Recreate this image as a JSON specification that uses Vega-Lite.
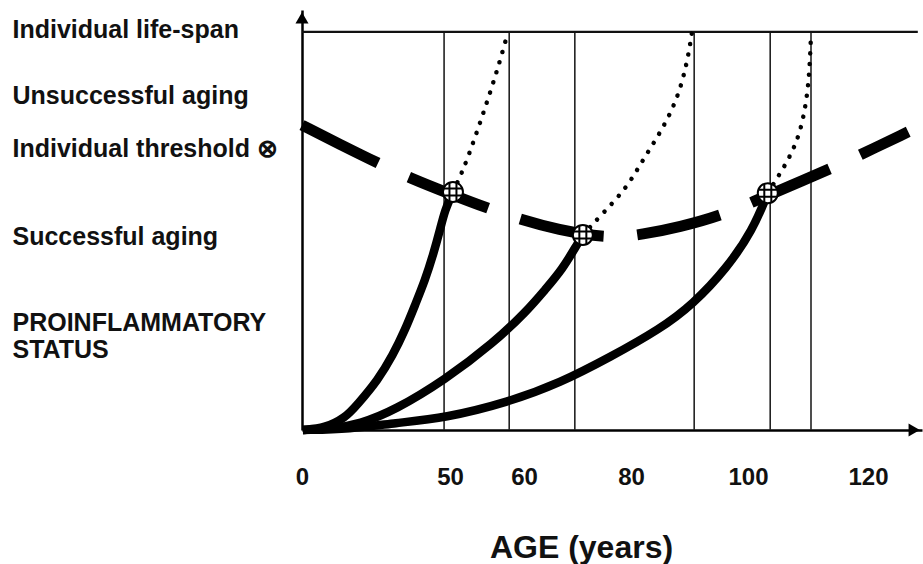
{
  "$schema": "https://vega.github.io/schema/vega-lite/v6.json",
  "width": 620,
  "height": 420,
  "autosize": {"type": "none"},
  "padding": {"left": 302, "top": 10, "right": 1, "bottom": 134},
  "background": "white",
  "config": {"view": {"stroke": null}, "font": "Liberation Sans"},
  "datasets": {
    "solid": [
      {"s": "c1", "age": 0.3, "v": 0}, {"s": "c1", "age": 7.8, "v": 0.5}, {"s": "c1", "age": 14.5, "v": 3.0}, {"s": "c1", "age": 18.6, "v": 6.3}, {"s": "c1", "age": 25.7, "v": 12.6}, {"s": "c1", "age": 30.7, "v": 18.8}, {"s": "c1", "age": 34.8, "v": 25.1}, {"s": "c1", "age": 38.2, "v": 31.4}, {"s": "c1", "age": 41.6, "v": 37.7}, {"s": "c1", "age": 44.3, "v": 44.0}, {"s": "c1", "age": 46.6, "v": 50.2}, {"s": "c1", "age": 48.3, "v": 55.3}, {"s": "c1", "age": 50.4, "v": 59.8},
      {"s": "c2", "age": 0.3, "v": 0}, {"s": "c2", "age": 9.5, "v": 0.25}, {"s": "c2", "age": 19.6, "v": 1.5}, {"s": "c2", "age": 31.4, "v": 5.0}, {"s": "c2", "age": 48.3, "v": 12.6}, {"s": "c2", "age": 55.9, "v": 21.9}, {"s": "c2", "age": 60.7, "v": 30.1}, {"s": "c2", "age": 63.9, "v": 35.2}, {"s": "c2", "age": 67.1, "v": 40.2}, {"s": "c2", "age": 70.1, "v": 47.0}, {"s": "c2", "age": 71.0, "v": 49.0},
      {"s": "c3", "age": 0.3, "v": 0}, {"s": "c3", "age": 16.2, "v": 0.25}, {"s": "c3", "age": 31.4, "v": 1.76}, {"s": "c3", "age": 48.3, "v": 3.0}, {"s": "c3", "age": 57.9, "v": 7.0}, {"s": "c3", "age": 66.7, "v": 11.8}, {"s": "c3", "age": 76.1, "v": 18.3}, {"s": "c3", "age": 85.0, "v": 25.4}, {"s": "c3", "age": 90.6, "v": 31.6}, {"s": "c3", "age": 96.4, "v": 40.7}, {"s": "c3", "age": 100.8, "v": 50.2}, {"s": "c3", "age": 103.3, "v": 59.5}
    ],
    "dotted": [
      {"s": "d1", "age": 50.4, "v": 59.8}, {"s": "d1", "age": 51.8, "v": 65.3}, {"s": "d1", "age": 53.5, "v": 74.1}, {"s": "d1", "age": 55.1, "v": 82.9}, {"s": "d1", "age": 56.6, "v": 91.7}, {"s": "d1", "age": 57.8, "v": 99.7},
      {"s": "d2", "age": 71.0, "v": 49.0}, {"s": "d2", "age": 74.8, "v": 54.5}, {"s": "d2", "age": 79.3, "v": 61.0}, {"s": "d2", "age": 82.0, "v": 67.8}, {"s": "d2", "age": 85.0, "v": 74.6}, {"s": "d2", "age": 87.9, "v": 82.9}, {"s": "d2", "age": 89.6, "v": 92.2}, {"s": "d2", "age": 90.4, "v": 99.7},
      {"s": "d3", "age": 103.3, "v": 59.5}, {"s": "d3", "age": 105.0, "v": 63.6}, {"s": "d3", "age": 107.0, "v": 68.6}, {"s": "d3", "age": 108.7, "v": 74.6}, {"s": "d3", "age": 109.8, "v": 82.9}, {"s": "d3", "age": 110.3, "v": 91.2}, {"s": "d3", "age": 110.5, "v": 99.7}
    ],
    "threshold": [
      {"age": 0, "v": 76.6}, {"age": 13.2, "v": 71.6}, {"age": 26.3, "v": 66.8}, {"age": 36.5, "v": 63.3}, {"age": 50.0, "v": 59.3}, {"age": 55.4, "v": 55.5}, {"age": 59.7, "v": 52.8}, {"age": 66.7, "v": 50.2}, {"age": 73.3, "v": 48.7}, {"age": 77.9, "v": 48.5}, {"age": 81.5, "v": 49.0}, {"age": 88.4, "v": 51.0}, {"age": 95.6, "v": 54.0}, {"age": 100.8, "v": 57.3}, {"age": 107.0, "v": 61.3}, {"age": 114.0, "v": 65.8}, {"age": 118.7, "v": 69.1}, {"age": 126.7, "v": 74.9}
    ],
    "circles": [
      {"age": 50.4, "v": 59.8}, {"age": 71.0, "v": 49.0}, {"age": 103.3, "v": 59.5}
    ],
    "vlines": [
      {"age": 48.0}, {"age": 58.0}, {"age": 69.5}, {"age": 90.8}, {"age": 103.7}, {"age": 110.5}
    ],
    "topline": [{"a0": 0, "a1": 128.3, "v": 100}],
    "arrows": [
      {"age": 0, "v": 103.5, "shape": "triangle-up"},
      {"age": 127.7, "v": 0, "shape": "triangle-right"}
    ]
  },
  "encoding": {
    "x": {
      "type": "quantitative",
      "scale": {"domain": [0, 50, 60, 80, 100, 120, 129], "range": [0, 148, 222, 329, 446, 566, 620], "nice": false, "zero": false}
    },
    "y": {
      "type": "quantitative",
      "scale": {"domain": [0, 105.5], "nice": false, "zero": false}
    }
  },
  "layer": [
    {
      "data": {"name": "vlines"},
      "mark": {"type": "rule", "color": "#222", "strokeWidth": 1.6},
      "encoding": {
        "x": {"field": "age", "type": "quantitative",
          "axis": {
            "values": [0, 50, 60, 80, 100, 120],
            "title": "AGE (years)",
            "titleFontSize": 32, "titleFontWeight": "bold", "titleColor": "#111",
            "titleX": 279, "titleY": 127, "titleAlign": "center", "titleBaseline": "alphabetic",
            "labelFontSize": 24, "labelFontWeight": "bold", "labelColor": "#111",
            "labelBaseline": "alphabetic", "labelPadding": 54,
            "ticks": false, "tickSize": 0, "grid": false,
            "domain": true, "domainColor": "#000", "domainWidth": 2.5,
            "labelOverlap": false, "labelFlush": false, "labelBound": false
          }
        },
        "y": {"datum": 0,
          "axis": {
            "values": [98.5, 81.9, 68.8, 46.5, 25.1, 18.1],
            "labelExpr": "datum.value == 98.5 ? 'Individual life-span' : datum.value == 81.9 ? 'Unsuccessful aging' : datum.value == 68.8 ? 'Individual threshold ⊗' : datum.value == 46.5 ? 'Successful aging' : datum.value == 25.1 ? 'PROINFLAMMATORY' : 'STATUS'",
            "title": null,
            "labelAlign": "left", "labelBaseline": "alphabetic", "labelPadding": 290,
            "labelFontSize": 25, "labelFontWeight": "bold", "labelColor": "#111",
            "labelLimit": 0, "labelOverlap": false, "labelFlush": false, "labelBound": false,
            "ticks": false, "tickSize": 0, "grid": false,
            "domain": true, "domainColor": "#000", "domainWidth": 2.5
          }
        },
        "y2": {"datum": 100}
      }
    },
    {
      "data": {"name": "topline"},
      "mark": {"type": "rule", "color": "#111", "strokeWidth": 2.2},
      "encoding": {
        "x": {"field": "a0", "type": "quantitative"},
        "x2": {"field": "a1"},
        "y": {"field": "v", "type": "quantitative"}
      }
    },
    {
      "data": {"name": "threshold"},
      "mark": {"type": "line", "color": "#000", "strokeWidth": 11, "strokeDash": [85, 34], "strokeCap": "butt", "interpolate": "basis"},
      "encoding": {
        "x": {"field": "age", "type": "quantitative"},
        "y": {"field": "v", "type": "quantitative"}
      }
    },
    {
      "data": {"name": "solid"},
      "mark": {"type": "line", "color": "#000", "strokeWidth": 8.5, "interpolate": "basis"},
      "encoding": {
        "x": {"field": "age", "type": "quantitative"},
        "y": {"field": "v", "type": "quantitative"},
        "detail": {"field": "s"}
      }
    },
    {
      "data": {"name": "dotted"},
      "mark": {"type": "line", "color": "#000", "strokeWidth": 4.5, "strokeDash": [0.1, 10.5], "strokeCap": "round", "interpolate": "basis"},
      "encoding": {
        "x": {"field": "age", "type": "quantitative"},
        "y": {"field": "v", "type": "quantitative"},
        "detail": {"field": "s"}
      }
    },
    {
      "data": {"name": "circles"},
      "mark": {"type": "point", "shape": "circle", "filled": true, "fill": "white", "stroke": "#000", "strokeWidth": 2, "size": 400, "opacity": 1},
      "encoding": {
        "x": {"field": "age", "type": "quantitative"},
        "y": {"field": "v", "type": "quantitative"}
      }
    },
    {
      "data": {"name": "circles"},
      "mark": {"type": "point", "shape": "M-0.94,-0.35H0.94M-0.94,0.35H0.94M-0.35,-0.94V0.94M0.35,-0.94V0.94", "filled": false, "stroke": "#000", "strokeWidth": 2, "size": 400, "opacity": 1},
      "encoding": {
        "x": {"field": "age", "type": "quantitative"},
        "y": {"field": "v", "type": "quantitative"}
      }
    },
    {
      "data": {"name": "arrows"},
      "mark": {"type": "point", "filled": true, "color": "#000", "size": 170, "opacity": 1},
      "encoding": {
        "x": {"field": "age", "type": "quantitative"},
        "y": {"field": "v", "type": "quantitative"},
        "shape": {"field": "shape", "type": "nominal", "scale": null, "legend": null}
      }
    }
  ]
}
